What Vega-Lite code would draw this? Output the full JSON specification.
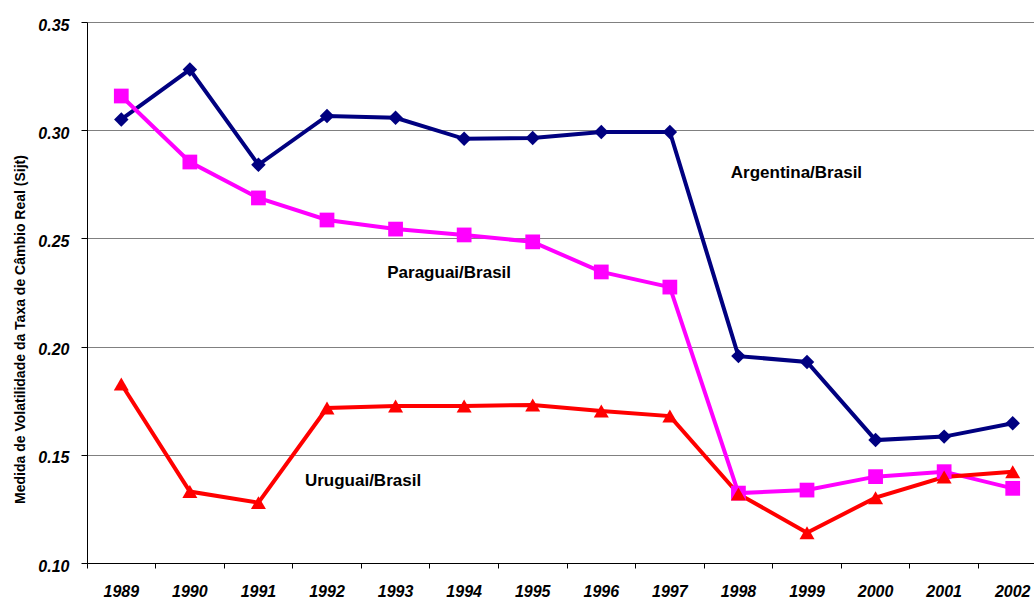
{
  "$schema": "https://vega.github.io/schema/vega-lite/v6.json",
  "width": 960,
  "height": 541,
  "autosize": {"type": "none"},
  "padding": {"left": 87, "top": 22, "right": 0, "bottom": 38},
  "background": "white",
  "config": {"view": {"stroke": null}, "font": "Liberation Sans"},
  "datasets": {
    "series": [
      {"year": "1989", "pair": "Argentina/Brasil", "value": 0.305},
      {"year": "1990", "pair": "Argentina/Brasil", "value": 0.328},
      {"year": "1991", "pair": "Argentina/Brasil", "value": 0.284},
      {"year": "1992", "pair": "Argentina/Brasil", "value": 0.3066},
      {"year": "1993", "pair": "Argentina/Brasil", "value": 0.3057},
      {"year": "1994", "pair": "Argentina/Brasil", "value": 0.296},
      {"year": "1995", "pair": "Argentina/Brasil", "value": 0.2964},
      {"year": "1996", "pair": "Argentina/Brasil", "value": 0.2992},
      {"year": "1997", "pair": "Argentina/Brasil", "value": 0.2992},
      {"year": "1998", "pair": "Argentina/Brasil", "value": 0.1956},
      {"year": "1999", "pair": "Argentina/Brasil", "value": 0.1929},
      {"year": "2000", "pair": "Argentina/Brasil", "value": 0.1568},
      {"year": "2001", "pair": "Argentina/Brasil", "value": 0.1584},
      {"year": "2002", "pair": "Argentina/Brasil", "value": 0.1646},
      {"year": "1989", "pair": "Paraguai/Brasil", "value": 0.3158},
      {"year": "1990", "pair": "Paraguai/Brasil", "value": 0.2853},
      {"year": "1991", "pair": "Paraguai/Brasil", "value": 0.2687},
      {"year": "1992", "pair": "Paraguai/Brasil", "value": 0.2585},
      {"year": "1993", "pair": "Paraguai/Brasil", "value": 0.2543},
      {"year": "1994", "pair": "Paraguai/Brasil", "value": 0.2516},
      {"year": "1995", "pair": "Paraguai/Brasil", "value": 0.2484},
      {"year": "1996", "pair": "Paraguai/Brasil", "value": 0.2345},
      {"year": "1997", "pair": "Paraguai/Brasil", "value": 0.2275},
      {"year": "1998", "pair": "Paraguai/Brasil", "value": 0.1323},
      {"year": "1999", "pair": "Paraguai/Brasil", "value": 0.1337},
      {"year": "2000", "pair": "Paraguai/Brasil", "value": 0.1399},
      {"year": "2001", "pair": "Paraguai/Brasil", "value": 0.1422},
      {"year": "2002", "pair": "Paraguai/Brasil", "value": 0.1345},
      {"year": "1989", "pair": "Uruguai/Brasil", "value": 0.1827},
      {"year": "1990", "pair": "Uruguai/Brasil", "value": 0.133},
      {"year": "1991", "pair": "Uruguai/Brasil", "value": 0.1279},
      {"year": "1992", "pair": "Uruguai/Brasil", "value": 0.1716},
      {"year": "1993", "pair": "Uruguai/Brasil", "value": 0.1726},
      {"year": "1994", "pair": "Uruguai/Brasil", "value": 0.1726},
      {"year": "1995", "pair": "Uruguai/Brasil", "value": 0.173},
      {"year": "1996", "pair": "Uruguai/Brasil", "value": 0.1702},
      {"year": "1997", "pair": "Uruguai/Brasil", "value": 0.1679},
      {"year": "1998", "pair": "Uruguai/Brasil", "value": 0.1319},
      {"year": "1999", "pair": "Uruguai/Brasil", "value": 0.114},
      {"year": "2000", "pair": "Uruguai/Brasil", "value": 0.1302},
      {"year": "2001", "pair": "Uruguai/Brasil", "value": 0.1397},
      {"year": "2002", "pair": "Uruguai/Brasil", "value": 0.1422}
    ]
  },
  "layer": [
    {
      "data": {"name": "series"},
      "mark": {"type": "line", "strokeWidth": 4},
      "encoding": {
        "x": {
          "field": "year", "type": "ordinal", "bandPosition": 0.5,
          "scale": {"type": "band", "paddingInner": 0, "paddingOuter": 0},
          "axis": {
            "title": null, "grid": false, "bandPosition": 0, "labelOffset": 0,
            "domainColor": "black", "tickColor": "black", "tickSize": 5,
            "labelAngle": 0, "labelAlign": "center", "labelBaseline": "top", "labelPadding": 15,
            "labelFont": "Liberation Sans", "labelFontWeight": "bold", "labelFontStyle": "italic",
            "labelFontSize": 16, "labelColor": "black"
          }
        },
        "y": {
          "field": "value", "type": "quantitative",
          "scale": {"domain": [0.10, 0.35], "nice": false, "zero": false},
          "axis": {
            "values": [0.10, 0.15, 0.20, 0.25, 0.30, 0.35], "format": ".2f",
            "title": "Medida de Volatilidade da Taxa de Câmbio Real  (Sijt)",
            "titleFont": "Liberation Sans", "titleFontSize": 14, "titleFontWeight": "bold", "titleColor": "black",
            "titleAngle": -90, "titleX": -67, "titleY": 307, "titleAlign": "center", "titleBaseline": "middle",
            "grid": true, "gridColor": "#808080", "gridWidth": 1,
            "domainColor": "black", "tickColor": "black", "tickSize": 6, "labelPadding": 12, "labelOffset": 3,
            "labelFont": "Liberation Sans", "labelFontWeight": "bold", "labelFontStyle": "italic",
            "labelFontSize": 16, "labelColor": "black"
          }
        },
        "color": {
          "field": "pair", "type": "nominal", "legend": null,
          "scale": {"domain": ["Argentina/Brasil", "Paraguai/Brasil", "Uruguai/Brasil"], "range": ["#000080", "#FF00FF", "#FF0000"]}
        }
      }
    },
    {
      "data": {"name": "series"},
      "mark": {"type": "point", "filled": true, "opacity": 1},
      "encoding": {
        "x": {"field": "year", "type": "ordinal", "bandPosition": 0.5},
        "y": {"field": "value", "type": "quantitative"},
        "color": {"field": "pair", "type": "nominal", "legend": null},
        "shape": {
          "field": "pair", "type": "nominal", "legend": null,
          "scale": {"domain": ["Argentina/Brasil", "Paraguai/Brasil", "Uruguai/Brasil"], "range": ["diamond", "square", "triangle-up"]}
        },
        "size": {
          "field": "pair", "type": "nominal", "legend": null,
          "scale": {"domain": ["Argentina/Brasil", "Paraguai/Brasil", "Uruguai/Brasil"], "range": [210, 225, 70]}
        }
      }
    },
    {
      "data": {"values": [{"year": "1998", "value": 0.2779, "label": "Argentina/Brasil"}]},
      "mark": {"type": "text", "align": "center", "baseline": "alphabetic", "dx": 58, "font": "Liberation Sans", "fontWeight": "bold", "fontSize": 17, "color": "black"},
      "encoding": {
        "x": {"field": "year", "type": "ordinal", "bandPosition": 0.5},
        "y": {"field": "value", "type": "quantitative"},
        "text": {"field": "label"}
      }
    },
    {
      "data": {"values": [{"year": "1994", "value": 0.2316, "label": "Paraguai/Brasil"}]},
      "mark": {"type": "text", "align": "center", "baseline": "alphabetic", "dx": -15, "font": "Liberation Sans", "fontWeight": "bold", "fontSize": 17, "color": "black"},
      "encoding": {
        "x": {"field": "year", "type": "ordinal", "bandPosition": 0.5},
        "y": {"field": "value", "type": "quantitative"},
        "text": {"field": "label"}
      }
    },
    {
      "data": {"values": [{"year": "1992", "value": 0.1356, "label": "Uruguai/Brasil"}]},
      "mark": {"type": "text", "align": "center", "baseline": "alphabetic", "dx": 36, "font": "Liberation Sans", "fontWeight": "bold", "fontSize": 17, "color": "black"},
      "encoding": {
        "x": {"field": "year", "type": "ordinal", "bandPosition": 0.5},
        "y": {"field": "value", "type": "quantitative"},
        "text": {"field": "label"}
      }
    }
  ]
}
